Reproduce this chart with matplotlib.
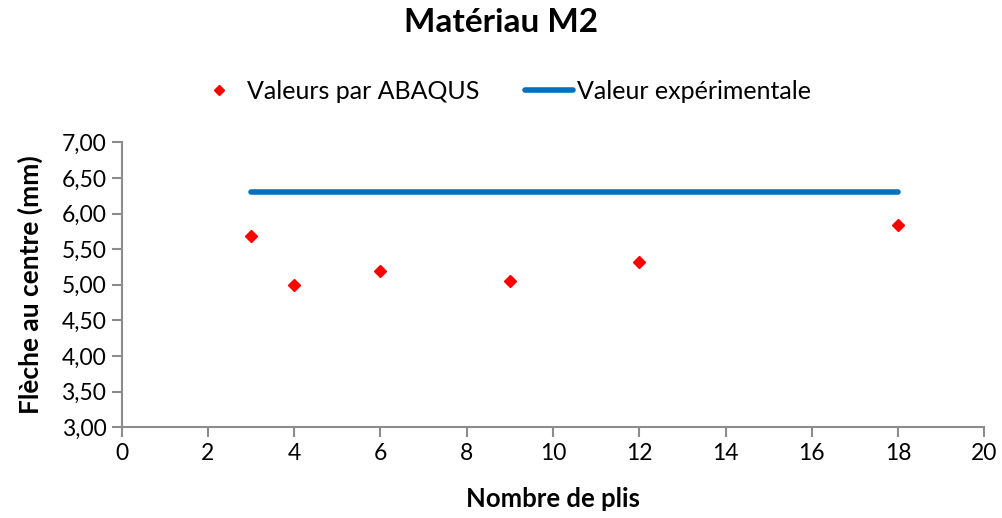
import matplotlib.pyplot as plt
from matplotlib.ticker import FuncFormatter, MultipleLocator

# Flèche au centre pour différents nombres de plis (matériau M2)
plis = [3, 4, 6, 9, 12, 18]
fleche_abaqus = [5.68, 5.00, 5.20, 5.05, 5.32, 5.84]
# Valeur expérimentale, tracée de 3 à 18 plis
plis_exp = [3, 18]
fleche_exp = [6.30, 6.30]

plt.rcParams['font.family'] = ['Lato', 'DejaVu Sans']

fig = plt.figure(figsize=(10.03, 5.18), dpi=100)
ax = fig.add_axes([0.1213, 0.1751, 0.8601, 0.5502])

ax.plot(plis, fleche_abaqus, linestyle='none', marker='D', markersize=6,
        color='#ff0000', label='Valeurs par ABAQUS')
ax.plot(plis_exp, fleche_exp, color='#0070c0', linewidth=4,
        solid_capstyle='round', label='Valeur expérimentale')

ax.set_xlim(0, 20)
ax.set_ylim(3, 7)
ax.xaxis.set_major_locator(MultipleLocator(2))
ax.yaxis.set_major_locator(MultipleLocator(0.5))
ax.yaxis.set_major_formatter(FuncFormatter(lambda v, p: f'{v:.2f}'.replace('.', ',')))

for s in ['top', 'right']:
    ax.spines[s].set_visible(False)
for s in ['left', 'bottom']:
    ax.spines[s].set_color('#8c8c8c')
    ax.spines[s].set_linewidth(1.5)
ax.tick_params(direction='out', length=7, width=1.5, color='#8c8c8c',
               labelsize=16.5, labelcolor='black', pad=4)

ax.set_xlabel('Nombre de plis', fontsize=18.5, fontweight='bold', labelpad=17)
ax.set_ylabel('Flèche au centre (mm)', fontsize=19, fontweight='bold', labelpad=13)
fig.suptitle('Matériau M2', fontsize=24, fontweight='bold', y=0.985)

ax.legend(loc='lower center', bbox_to_anchor=(0.442, 1.06), ncol=2, frameon=False,
          fontsize=18, columnspacing=1.8, handlelength=1.95, handletextpad=0.15,
          markerscale=0.8)

fig.savefig('out.png', dpi=100)
